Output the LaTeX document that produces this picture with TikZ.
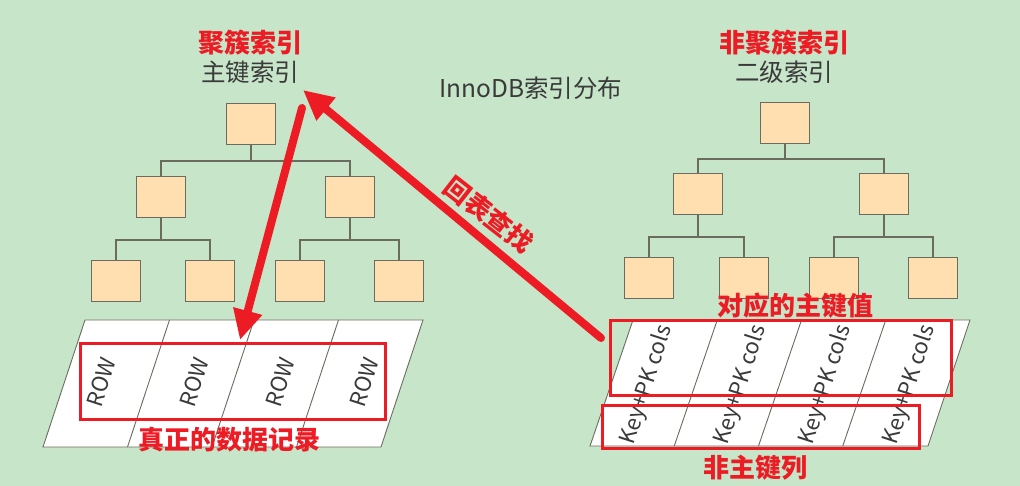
\documentclass[tikz,border=0pt]{standalone}
\usepackage{fontspec}
\usepackage{tikz}
\usetikzlibrary{arrows.meta,positioning}
\newfontfamily\cjk{Noto Sans CJK SC}
\definecolor{bgGreen}{HTML}{C7E5C9}
\definecolor{boxFill}{HTML}{FFDFB0}
\definecolor{boxLine}{HTML}{6B6B5E}
\definecolor{markRed}{HTML}{ED1C24}
\definecolor{textGray}{HTML}{3A3A3A}

\begin{document}
\begin{tikzpicture}[x=1pt, y=-1pt, >=latex]
  \tikzstyle{page} = [use as bounding box];
  \tikzstyle{leaf} = [draw=boxLine, line width=1.3pt, fill=boxFill, rectangle, minimum width=49pt, minimum height=41pt, inner sep=0pt];
  \tikzstyle{branch} = [boxLine, line width=1.3pt];
  \tikzstyle{redTitle} = [text=markRed, font={\cjk\bfseries\fontsize{26}{28}\selectfont}, inner sep=0pt];
  \tikzstyle{grayTitle} = [text=textGray, font={\cjk\fontsize{24.5}{26}\selectfont}, inner sep=0pt];
  \tikzstyle{cellText} = [text=textGray, font={\cjk\fontsize{22}{24}\selectfont}, rotate=72, inner sep=0pt];
  \tikzstyle{sheet} = [draw=boxLine, line width=0.9pt, fill=white];
  \tikzstyle{redFrame} = [draw=markRed, line width=3pt];
  \tikzstyle{bigArrow} = [markRed, line width=8pt, line cap=round, -{Triangle[length=30pt,width=28pt]}];

  \fill[bgGreen] (0,0) rectangle (1020,486);
  \path[page] (0,0) rectangle (1020,486);

  % titles
  \node[redTitle]  (pkTitle) at (250,43) {聚簇索引};
  \node[grayTitle] (pkSub) [below=5pt of pkTitle] {主键索引};
  \node[redTitle]  (skTitle) at (784,43) {非聚簇索引};
  \node[grayTitle] (skSub) [below=5pt of skTitle] {二级索引};
  \node[grayTitle] (caption) at (531,88) {InnoDB索引分布};

  % clustered index tree
  \node[leaf] (pkRoot) at (251,124) {};
  \node[leaf] (pkMidA) at (161,197) {};
  \node[leaf] (pkMidB) at (350,197) {};
  \node[leaf] (pkLeafA) at (116,281) {};
  \node[leaf] (pkLeafB) at (210,281) {};
  \node[leaf] (pkLeafC) at (300,281) {};
  \node[leaf] (pkLeafD) at (399,281) {};
  \draw[branch] (pkRoot.south) -- ++(0,16) -| (pkMidA.north);
  \draw[branch] (pkRoot.south) -- ++(0,16) -| (pkMidB.north);
  \draw[branch] (pkMidA.south) -- ++(0,22) -| (pkLeafA.north);
  \draw[branch] (pkMidA.south) -- ++(0,22) -| (pkLeafB.north);
  \draw[branch] (pkMidB.south) -- ++(0,22) -| (pkLeafC.north);
  \draw[branch] (pkMidB.south) -- ++(0,22) -| (pkLeafD.north);

  % secondary index tree
  \node[leaf] (skRoot) at (785,123) {};
  \node[leaf] (skMidA) at (698,194) {};
  \node[leaf] (skMidB) at (884,194) {};
  \node[leaf] (skLeafA) at (649,278) {};
  \node[leaf] (skLeafB) at (744,278) {};
  \node[leaf] (skLeafC) at (834,278) {};
  \node[leaf] (skLeafD) at (933,278) {};
  \draw[branch] (skRoot.south) -- ++(0,15) -| (skMidA.north);
  \draw[branch] (skRoot.south) -- ++(0,15) -| (skMidB.north);
  \draw[branch] (skMidA.south) -- ++(0,22) -| (skLeafA.north);
  \draw[branch] (skMidA.south) -- ++(0,22) -| (skLeafB.north);
  \draw[branch] (skMidB.south) -- ++(0,22) -| (skLeafC.north);
  \draw[branch] (skMidB.south) -- ++(0,22) -| (skLeafD.north);

  % row pages
  \draw[sheet] (85,320) -- (423,320) -- (381,447) -- (43,447) -- cycle;
  \foreach \i in {1,2,3}
    \draw[boxLine, line width=0.9pt] (85+84.5*\i,320) -- (43+84.5*\i,447);
  \draw[sheet] (633,320) -- (970,320) -- (928,446) -- (590,446) -- cycle;
  \foreach \i in {1,2,3}
    \draw[boxLine, line width=0.9pt] (633+84.25*\i,320) -- (590+84.25*\i,446);

  \node[cellText] (rowA) at (101,382) {ROW};
  \node[cellText] (rowB) at (194,382) {ROW};
  \node[cellText] (rowC) at (280,382) {ROW};
  \node[cellText] (rowD) at (364,382) {ROW};
  \node[cellText] (colsA) at (647,385) {Key+PK cols};
  \node[cellText] (colsB) at (741,385) {Key+PK cols};
  \node[cellText] (colsC) at (826,385) {Key+PK cols};
  \node[cellText] (colsD) at (910,385) {Key+PK cols};

  % red marks
  \draw[redFrame] (80,343) rectangle (385,419);
  \draw[redFrame] (610,321) rectangle (951,395);
  \draw[redFrame] (602,405) rectangle (919,448);
  \node[redTitle] (rowNote) at (229,440) {真正的数据记录};
  \node[redTitle] (pkNote) at (795,306) {对应的主键值};
  \node[redTitle] (keyNote) at (755,468) {非主键列};

  \coordinate (downStart) at (302,108);
  \coordinate (downEnd) at (240,340);
  \coordinate (backStart) at (601,338);
  \coordinate (backEnd) at (303,90);
  \draw[bigArrow] (downStart) -- (downEnd);
  \draw[bigArrow] (backStart) -- (backEnd);
  \node[redTitle, rotate=-38] (backNote) at (489,215) {回表查找};
\end{tikzpicture}
\end{document}
